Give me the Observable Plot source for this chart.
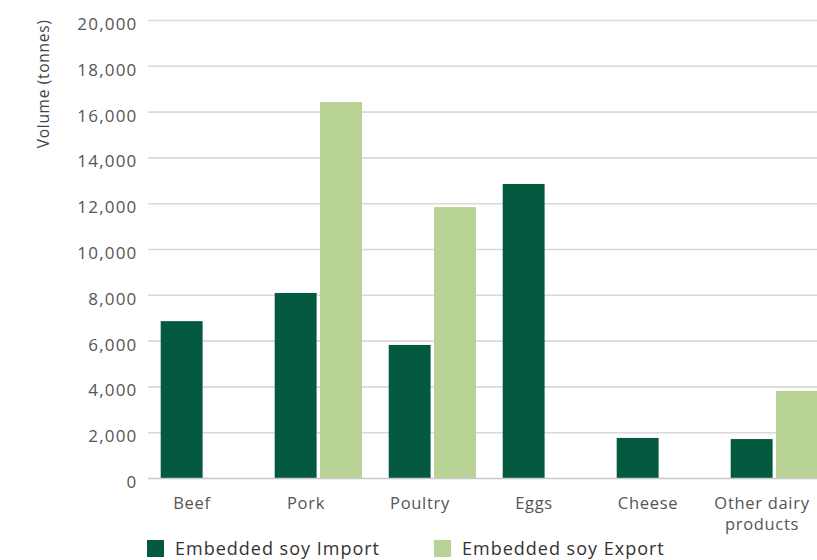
<!DOCTYPE html>
<html>
<head>
<meta charset="utf-8">
<script src="https://cdn.jsdelivr.net/npm/d3@7"></script>
<script src="https://cdn.jsdelivr.net/npm/@observablehq/plot@0.6"></script>
<style>
  html, body { margin: 0; padding: 0; background: #fff; overflow: hidden; }
  #wrap { position: relative; width: 817px; height: 560px; font-family: "Open Sans", sans-serif; }
  #chart svg { overflow: visible; }
  #chart g[aria-label="y-axis tick label"] text { letter-spacing: 1.2px; }
  #chart g[aria-label="x-axis tick label"] text { letter-spacing: 0.7px; }
  #chart g[aria-label="text"] text { letter-spacing: 0.7px; }
  .legend { position: absolute; top: 539px; left: 147px; display: flex; font-size: 18px; letter-spacing: 1px; color: #333; }
  .item { display: flex; align-items: flex-start; line-height: 19px; }
  .sw { width: 17px; height: 17px; margin-right: 11px; margin-top: 1px; }
</style>
</head>
<body>
<div id="wrap">
  <div id="chart"></div>
  <div class="legend" id="legend"></div>
</div>
<script>
const categories = ["Beef", "Pork", "Poultry", "Eggs", "Cheese", "Other dairy products"];
const importValues = [6850, 8080, 5810, 12840, 1750, 1700];
const exportValues = [null, 16420, 11830, null, null, 3800];
const seriesNames = ["Embedded soy Import", "Embedded soy Export"];
const yTicks = [0, 2000, 4000, 6000, 8000, 10000, 12000, 14000, 16000, 18000, 20000];
const yLabel = "Volume (tonnes)";
const colors = ["#035a40", "#b8d296"];

const importData = categories.map((c, i) => ({category: c, value: importValues[i]})).filter(d => d.value != null);
const exportData = categories.map((c, i) => ({category: c, value: exportValues[i]})).filter(d => d.value != null);

const left = 148, step = 114.1;
const chart = Plot.plot({
  width: 817,
  height: 530,
  marginLeft: left,
  marginRight: 0,
  marginTop: 20,
  marginBottom: 52,
  style: {fontFamily: "Open Sans, sans-serif", background: "white"},
  x: {domain: categories, range: [left, left + step * categories.length], padding: 0},
  y: {domain: [0, 20000], range: [478, 20]},
  marks: [
    Plot.gridY(yTicks.slice(1), {stroke: "#d9d9d9", strokeOpacity: 1, strokeWidth: 1.6}),
    Plot.ruleX([0], {frameAnchor: "left", y1: 0, y2: 20000, stroke: "#d9d9d9", strokeWidth: 1.6}),
    Plot.barY(importData, {x: "category", y: "value", fill: colors[0], insetLeft: 12.7, insetRight: 59.4}),
    Plot.barY(exportData, {x: "category", y: "value", fill: colors[1], insetLeft: 58, insetRight: 14}),
    Plot.ruleY([0], {stroke: "#c8c8c8", strokeWidth: 1.6}),
    Plot.axisY(yTicks, {tickSize: 0, tickPadding: 11, dy: 4, fontSize: 17, fill: "#555", tickFormat: d3.format(","), label: null}),
    Plot.axisX({tickSize: 0, tickPadding: 15, dx: -13.5, fontSize: 16.5, fill: "#555", lineWidth: 7, lineHeight: 1.3, label: null}),
    Plot.text([yLabel], {frameAnchor: "top-left", dx: -104, dy: -1, rotate: -90, textAnchor: "end", lineAnchor: "middle", fontSize: 15.5, fill: "#444"})
  ]
});
document.getElementById("chart").appendChild(chart);

const legend = document.getElementById("legend");
seriesNames.forEach((name, i) => {
  const item = document.createElement("div");
  item.className = "item";
  item.style.marginRight = i === 0 ? "54px" : "0";
  const sw = document.createElement("div");
  sw.className = "sw";
  sw.style.background = colors[i];
  const label = document.createElement("span");
  label.textContent = name;
  item.appendChild(sw);
  item.appendChild(label);
  legend.appendChild(item);
});
</script>
</body>
</html>
